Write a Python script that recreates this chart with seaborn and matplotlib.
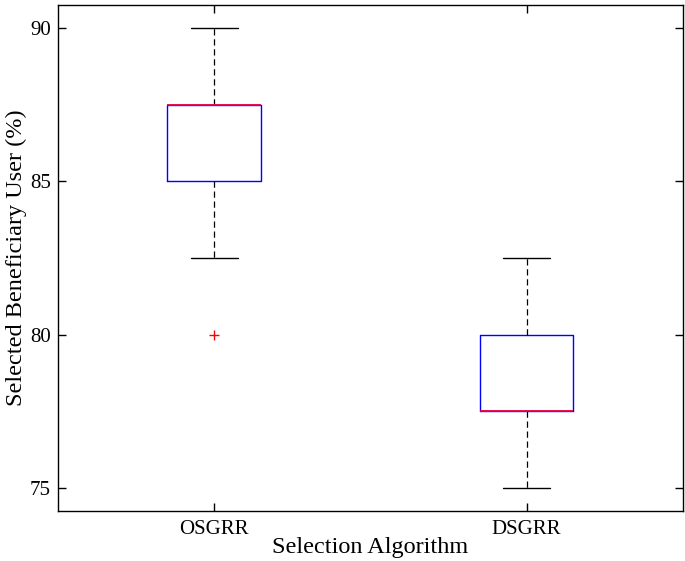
import matplotlib
matplotlib.use("Agg")
import matplotlib.pyplot as plt
import seaborn as sns
import pandas as pd

sns.set_style("ticks")
plt.rcParams['font.family'] = ['Liberation Serif', 'DejaVu Serif']
plt.rcParams['xtick.direction'] = 'in'
plt.rcParams['ytick.direction'] = 'in'
plt.rcParams['text.color'] = 'black'
plt.rcParams['axes.labelcolor'] = 'black'
plt.rcParams['xtick.color'] = 'black'
plt.rcParams['ytick.color'] = 'black'

# raw samples per algorithm (quartiles)
algorithms = ["OSGRR", "DSGRR"]
osgrr = [80, 82.5, 85, 85, 87.5, 87.5, 87.5, 87.5, 87.5, 90]
dsgrr = [75, 77.5, 77.5, 77.5, 77.5, 77.5, 80, 80, 80, 82.5]
y_ticks = [75, 80, 85, 90]

df = pd.DataFrame({
    "Selection Algorithm": ["OSGRR"] * len(osgrr) + ["DSGRR"] * len(dsgrr),
    "Selected Beneficiary User (%)": osgrr + dsgrr,
})

fig = plt.figure(figsize=(6.85, 5.61), dpi=100)
ax = fig.add_axes([0.0847, 0.0897, 0.912, 0.901])

sns.boxplot(
    data=df, x="Selection Algorithm", y="Selected Beneficiary User (%)",
    order=algorithms, width=0.3, fill=False, whis=1.5, ax=ax,
    boxprops=dict(color="blue", linewidth=1.0),
    medianprops=dict(color="#e8003a", linewidth=1.3, zorder=5),
    whiskerprops=dict(color="black", linestyle=(0, (5, 3)), linewidth=0.9),
    capprops=dict(color="black", linewidth=1.0),
    flierprops=dict(marker="+", markeredgecolor="red", markersize=7,
                    markeredgewidth=1.0),
)

ax.set_ylim(74.25, 90.75)
ax.set_xlim(-0.5, 1.5)
ax.set_yticks(y_ticks)
ax.tick_params(axis="both", which="both", top=True, right=True,
               length=6, width=1.0, labelsize=15)
ax.tick_params(axis="x", pad=7)
ax.tick_params(axis="y", pad=5)
for sp in ax.spines.values():
    sp.set_linewidth(1.0)
    sp.set_color("black")
ax.set_xlabel("Selection Algorithm", fontsize=17.5, labelpad=-2)
ax.set_ylabel("Selected Beneficiary User (%)", fontsize=17.5, labelpad=2)

fig.savefig("out.png", dpi=100)
